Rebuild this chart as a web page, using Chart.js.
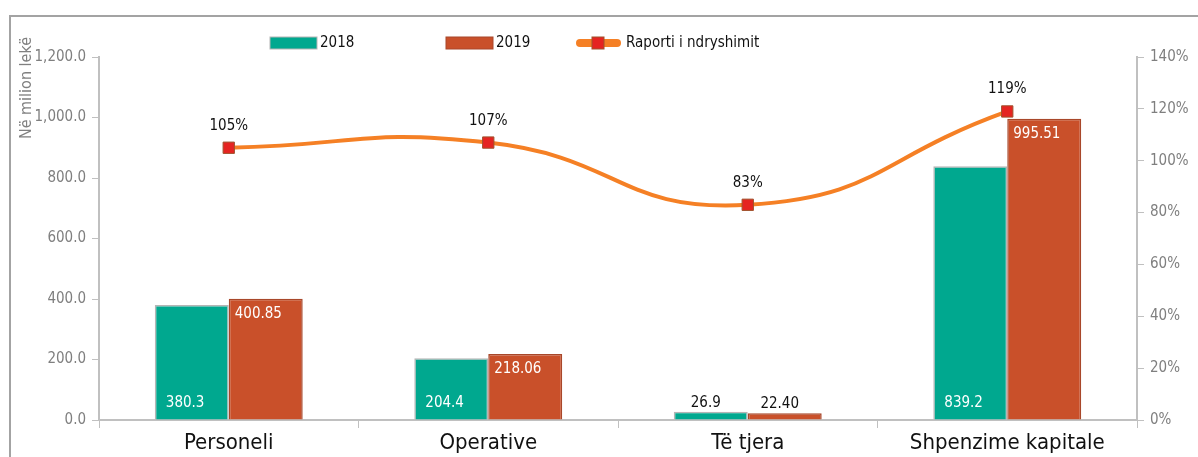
<!DOCTYPE html>
<html>
<head>
<meta charset="utf-8">
<script src="https://cdn.jsdelivr.net/npm/chart.js@4.4.1/dist/chart.umd.min.js"></script>
<style>
  html, body { margin: 0; padding: 0; background: #fff; }
  #wrap { position: relative; width: 1198px; height: 457px; overflow: hidden; }
  #frame { position: absolute; left: 9px; top: 15px; width: 1300px; height: 600px;
           border-left: 2px solid #a3a3a3; border-top: 2px solid #a3a3a3; }
  canvas { position: absolute; left: 0; top: 0; }
</style>
</head>
<body>
<div id="wrap">
  <div id="frame"></div>
  <canvas id="Chart" width="1198" height="457"></canvas>
</div>
<script>
// categories and values (million lek)
var categories = ["Personeli", "Operative", "Të tjera", "Shpenzime kapitale"];
var values2018 = [380.3, 204.4, 26.9, 839.2];
var values2019 = [400.85, 218.06, 22.40, 995.51];
var labels2018 = ["380.3", "204.4", "26.9", "839.2"];
var labels2019 = ["400.85", "218.06", "22.40", "995.51"];
// change ratio 2019/2018 in percent
var ratio = [105, 107, 83, 119];

// condensed face of DejaVu Sans, picked through font-stretch
var FAMILY = "'DejaVu Sans Condensed', 'DejaVu Sans', sans-serif";
function font(size, weight) {
  return "condensed " + (weight ? weight + " " : "") + size + "px " + FAMILY;
}
var TEAL = "#00a88f";
var RUST = "#c9502a";
var ORANGE = "#f58025";
var MARK = "#e52421";
var AXIS = "#c0c0c0";

// value labels, axis title and legend drawn onto the canvas
var extras = {
  id: "extras",
  afterDatasetsDraw: function(chart) {
    var ctx = chart.ctx;
    ctx.save();
    ctx.font = font(15);
    ctx.textBaseline = "alphabetic";

    var m0 = chart.getDatasetMeta(1);
    var m1 = chart.getDatasetMeta(2);
    for (var i = 0; i < categories.length; i++) {
      var b0 = m0.data[i], b1 = m1.data[i];
      if (values2018[i] < 100) {
        ctx.fillStyle = "#111";
        ctx.textAlign = "center";
        ctx.fillText(labels2018[i], b0.x - 5, b0.y - 5);
        ctx.fillText(labels2019[i], b1.x - 5, b1.y - 5);
      } else {
        ctx.fillStyle = "#fff";
        ctx.textAlign = "left";
        ctx.fillText(labels2018[i], b0.x - b0.width / 2 + 11, b0.base - 13);
        ctx.fillText(labels2019[i], b1.x - b1.width / 2 + 6, b1.y + 19);
      }
    }

    var ml = chart.getDatasetMeta(0);
    ctx.fillStyle = "#111";
    ctx.textAlign = "center";
    for (var j = 0; j < ratio.length; j++) {
      var p = ml.data[j];
      ctx.fillText(ratio[j] + "%", p.x, p.y - 18);
    }
    ctx.restore();
  },
  afterDraw: function(chart) {
    var ctx = chart.ctx;
    ctx.save();
    // y axis title
    ctx.translate(27, 88);
    ctx.rotate(-Math.PI / 2);
    ctx.font = font(16);
    ctx.fillStyle = "#808080";
    ctx.textAlign = "center";
    ctx.textBaseline = "middle";
    ctx.fillText("Në milion lekë", 0, 0);
    ctx.restore();

    // legend
    ctx.save();
    ctx.font = font(15);
    ctx.textBaseline = "middle";
    ctx.textAlign = "left";
    var ly = 43;
    ctx.fillStyle = TEAL;
    ctx.strokeStyle = "#b5b5b5";
    ctx.lineWidth = 1;
    ctx.fillRect(270, ly - 6, 47, 12);
    ctx.strokeRect(270, ly - 6, 47, 12);
    ctx.fillStyle = "#111";
    ctx.fillText("2018", 320, ly);

    ctx.fillStyle = RUST;
    ctx.strokeStyle = "#a8472a";
    ctx.fillRect(446, ly - 6, 47, 12);
    ctx.strokeRect(446, ly - 6, 47, 12);
    ctx.fillStyle = "#111";
    ctx.fillText("2019", 496, ly);

    ctx.strokeStyle = ORANGE;
    ctx.lineWidth = 8;
    ctx.lineCap = "round";
    ctx.beginPath();
    ctx.moveTo(580, ly);
    ctx.lineTo(617, ly);
    ctx.stroke();
    ctx.fillStyle = MARK;
    ctx.strokeStyle = "#a0522d";
    ctx.lineWidth = 1;
    ctx.fillRect(592, ly - 6, 12, 12);
    ctx.strokeRect(592, ly - 6, 12, 12);
    ctx.fillStyle = "#111";
    ctx.fillText("Raporti i ndryshimit", 626, ly);
    ctx.restore();
  }
};

var ctx = document.getElementById("Chart");
var myChart = new Chart(ctx, {
  type: "bar",
  data: {
    labels: categories,
    datasets: [
      {
        type: "line",
        label: "Raporti i ndryshimit",
        data: ratio,
        yAxisID: "y1",
        borderColor: ORANGE,
        borderWidth: 4,
        tension: 0.5,
        pointStyle: "rect",
        pointRadius: 8,
        pointBackgroundColor: MARK,
        pointBorderColor: "#a0522d",
        pointBorderWidth: 1,
        fill: false,
        order: 0
      },
      {
        label: "2018",
        data: values2018,
        backgroundColor: TEAL,
        borderColor: "#b5b5b5",
        borderWidth: 1.5,
        borderSkipped: "bottom",
        categoryPercentage: 0.57,
        barPercentage: 1,
        order: 1
      },
      {
        label: "2019",
        data: values2019,
        backgroundColor: RUST,
        borderColor: "#a8472a",
        borderWidth: 1.5,
        borderSkipped: "bottom",
        categoryPercentage: 0.57,
        barPercentage: 1,
        order: 1
      }
    ]
  },
  options: {
    responsive: false,
    animation: false,
    layout: { padding: { top: 57, left: 0, right: 0, bottom: 0 } },
    plugins: {
      legend: { display: false },
      tooltip: { enabled: false }
    },
    scales: {
      x: {
        grid: { display: true, drawOnChartArea: false, offset: true, color: AXIS, tickLength: 8 },
        border: { color: AXIS, width: 2 },
        ticks: { color: "#111", font: { family: FAMILY, style: "condensed", size: 22 }, padding: 2 },
        afterFit: function(scale) { scale.height = 37; }
      },
      y: {
        position: "left",
        min: 0,
        max: 1200,
        grid: { drawOnChartArea: false, color: AXIS, tickLength: 7 },
        border: { color: AXIS, width: 2 },
        ticks: {
          stepSize: 200,
          color: "#7f7f7f",
          font: { family: FAMILY, style: "condensed", size: 15 },
          padding: 6,
          callback: function(v) {
            return v.toLocaleString("en-US", { minimumFractionDigits: 1, maximumFractionDigits: 1 });
          }
        },
        afterFit: function(scale) { scale.width = 99; }
      },
      y1: {
        position: "right",
        min: 0,
        max: 140,
        grid: { drawOnChartArea: false, color: AXIS, tickLength: 7 },
        border: { color: AXIS, width: 2 },
        ticks: {
          stepSize: 20,
          color: "#7f7f7f",
          font: { family: FAMILY, style: "condensed", size: 15 },
          padding: 6,
          callback: function(v) { return v + "%"; }
        },
        afterFit: function(scale) { scale.width = 61; }
      }
    }
  },
  plugins: [extras]
});
</script>
</body>
</html>
